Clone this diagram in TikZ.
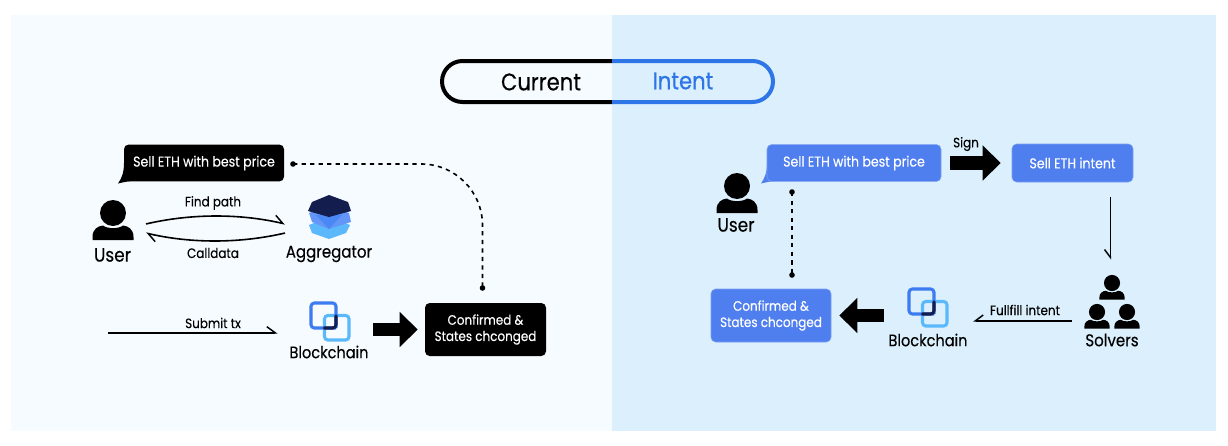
\documentclass[tikz,border=0pt]{standalone}
\usepackage{fontspec}
\setmainfont[FakeStretch=0.88,FakeBold=0.25]{Poppins}
\newfontfamily\heavier[FakeStretch=0.88,FakeBold=0.7]{Poppins}
\usetikzlibrary{arrows.meta,calc}
\definecolor{panelL}{HTML}{F5FBFF}
\definecolor{panelR}{HTML}{DBF0FC}
\definecolor{boxblue}{HTML}{4F7EEE}
\definecolor{pillblue}{HTML}{2E75E8}
\definecolor{navy}{HTML}{141E4E}
\definecolor{midblue}{HTML}{6396F7}
\definecolor{midblue2}{HTML}{4A88F5}
\definecolor{skyblue}{HTML}{5BB8FB}
\definecolor{chainblue}{HTML}{3D7BF0}
\newcommand{\low}[1]{\raisebox{-0.75pt}{#1}}
\tikzset{
  x=0.75pt,y=-0.75pt,
  lbl/.style={inner sep=0pt,text=black,font=\fontsize{10.2pt}{12pt}\selectfont},
  name label/.style={inner sep=0pt,text=black,font=\fontsize{12.8pt}{14pt}\selectfont},
  chain label/.style={inner sep=0pt,text=black,font=\fontsize{12.4pt}{14pt}\selectfont},
  user label/.style={inner sep=0pt,text=black,font=\fontsize{14.4pt}{16pt}\selectfont},
  boxtext/.style={rounded corners=3.5pt,inner sep=0pt,align=center,text=white,font=\fontsize{10.2pt}{12.2pt}\selectfont},
  bubbletext/.style={font=\fontsize{10.7pt}{12.2pt}\selectfont},
  blackbox/.style={boxtext,fill=black},
  bluebox/.style={boxtext,fill=boxblue,draw=boxblue!75!white,line width=0.4pt},
  icon/.style={inner sep=0pt,draw=none},
  dotmark/.style={circle,fill=black,minimum size=4.2pt,inner sep=0pt},
  thin conn/.style={line width=1.2pt,black},
  barbL/.style={thin conn,-{Straight Barb[left,length=6.5pt,width=9.5pt,line width=1.1pt]}},
  barbR/.style={thin conn,-{Straight Barb[right,length=6pt,width=9pt,line width=1.1pt]}},
  dots/.style={line width=1.2pt,black,dash pattern=on 3.2pt off 3.2pt},
  bigarrow/.style={line width=10.2pt,black,-{Triangle[length=13.5pt,width=25.5pt]}},
  person/.pic={
    \fill (0,0) circle (13);
    \fill (-20.5,27) -- (-20.5,24) .. controls (-20.5,16) and (-15,13) .. (-10,12.5)
      .. controls (-6,16) and (6,16) .. (10,12.5)
      .. controls (15,13) and (20.5,16) .. (20.5,24) -- (20.5,27) -- cycle;
  },
  chain/.pic={
    \draw[skyblue,line width=2.3pt,rounded corners=2.5pt] (13.5,12.5) rectangle (38,37);
    \draw[chainblue,line width=2.3pt,rounded corners=2.5pt] (25,25) -- (0,25) -- (0,0) -- (25,0) -- (25,25);
    \draw[navy,line width=2.3pt,rounded corners=2.5pt,line cap=round] (13.5,25) -- (25,25) -- (25,13);
  },
}
\begin{document}
\begin{tikzpicture}
\useasboundingbox (0,0) rectangle (1228,446);
\fill[white] (0,0) rectangle (1228,446);
\fill[panelL] (11,15) rectangle (612,431);
\fill[panelR] (612,15) rectangle (1216,431);

% toggle
\draw[black,line width=3pt,rounded corners=15.4pt] (612,61) -- (442,61) -- (442,102) -- (612,102);
\draw[pillblue,line width=3pt,rounded corners=15.4pt] (612,61) -- (773,61) -- (773,102) -- (612,102);
\node[inner sep=0pt,text=black,font=\fontsize{18pt}{20pt}\selectfont] (cur) at (541,82) {Current};
\node[inner sep=0pt,text=pillblue,font=\heavier\fontsize{18pt}{20pt}\selectfont] (int) at (683,81) {Intent};

% left panel
\fill[black] (124,163) .. controls (124,172) and (122,178) .. (118,183.5) .. controls (124,182) and (130,181) .. (138,180) -- cycle;
\node[blackbox,bubbletext,minimum width=120pt,minimum height=27.7pt] (bubL) at (204,163) {\low{Sell ETH with best price}};
\pic at (113,213) {person};
\node[icon,minimum width=30pt,minimum height=21.75pt,outer sep=9.75pt] (userL) at (113,228.5) {};
\node[user label] (userLt) at (112.5,255) {User};

\fill[skyblue] (309,225) -- (312,233) -- (329,239) -- (346,233) -- (350,225) -- (329,217) -- cycle;
\fill[midblue] (309,213) -- (312,222) -- (329,229) -- (351,222) -- (349,213) -- (329,205) -- cycle;
\fill[midblue2] (316,215) -- (329,229) -- (342,215) -- cycle;
\fill[navy] (329,195) -- (348,202) -- (351,211) -- (329,217) -- (308,211) -- (312,202) -- cycle;
\node[icon,minimum width=33pt,minimum height=33pt,outer sep=16.5pt] (agg) at (329,228.5) {};
\node[name label] (aggt) at (329,254) {Aggregator};

\draw[barbL] ([yshift=3.4pt]userL.east) .. controls +(45,-10.5) and +(-45,-10.5) .. ([yshift=3.4pt]agg.west);
\draw[barbL] ([yshift=-3.4pt]agg.west) .. controls +(-45,10.5) and +(45,10.5) .. ([yshift=-3.4pt]userL.east);
\node[lbl] (find) at (213,203) {Find path};
\node[lbl] (call) at (213,253) {Calldata};

\coordinate (subS) at (108,333);
\pic at (311,303) {chain};
\node[icon,minimum width=28.5pt,minimum height=28pt] (bcL) at (329,320.5) {};
\node[chain label] (bcLt) at (329,352) {Blockchain};
\draw[barbL,shorten >=24pt] (subS) -- (bcL.west |- subS);
\node[lbl] (sub) at (213,323) {Submit tx};

\node[blackbox,minimum width=90.75pt,minimum height=39.75pt] (confL) at (485.5,329.5) {\low{Confirmed \&}\\\low{States chconged}};
\draw[bigarrow,shorten <=18.75pt,shorten >=5.25pt] (bcL.east |- confL.west) -- (confL.west);

\node[dotmark] (dotA) at (293,164) {};
\node[dotmark] (dotB) at (482.5,288) {};
\draw[dots,rounded corners=46pt] (dotA.center) -| (dotB.center);

% right panel
\fill[boxblue] (767,163) .. controls (767,172) and (765,178) .. (761,183.5) .. controls (767,182) and (773,181) .. (781,180) -- cycle;
\node[bluebox,bubbletext,minimum width=130.5pt,minimum height=27.7pt] (bubR) at (854,163) {\low{Sell ETH with best price}};
\pic at (737,186) {person};
\node[user label] (userRt) at (736,225) {User};

\node[bluebox,bubbletext,minimum width=90.75pt,minimum height=28.5pt] (intent) at (1072.5,163) {Sell ETH intent};
\draw[bigarrow,shorten <=6.75pt,shorten >=8.25pt] (bubR.east) -- (intent.west);
\node[lbl] (sign) at (966,144) {Sign};

\pic[scale=0.62] at (1112,283) {person};
\pic[scale=0.62] at (1097,312) {person};
\pic[scale=0.62] at (1127,312) {person};
\node[icon,minimum width=33pt,minimum height=36pt] (sol) at (1112,304) {};
\node[name label] (solt) at (1112,340) {Solvers};

\coordinate (vS) at (1110.5,197);
\draw[barbR,shorten >=15pt] (vS) -- (vS |- sol.north);

\pic at (909,289) {chain};
\node[icon,minimum width=28.5pt,minimum height=29pt] (bcR) at (928,308) {};
\node[chain label] (bcRt) at (928,340) {Blockchain};
\coordinate (fulS) at (1072,321);
\coordinate (fulE) at (973,321);
\draw[barbR] (fulS) -- (fulE);
\node[lbl] (ful) at (1025,310) {Fullfill intent};

\node[bluebox,minimum width=90pt,minimum height=39.75pt] (confR) at (771,315.5) {\low{Confirmed \&}\\\low{States chconged}};
\draw[bigarrow,shorten <=18.75pt,shorten >=6pt] (bcR.west |- confR.east) -- (confR.east);

\node[dotmark] (dotC) at (792,192) {};
\node[dotmark] (dotD) at (792,275) {};
\draw[dots] (dotC.center) -- (dotD.center);
\end{tikzpicture}
\end{document}
